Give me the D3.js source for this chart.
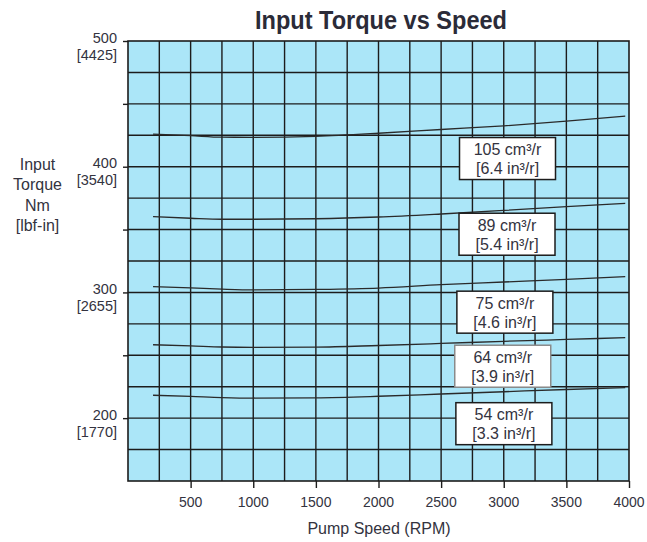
<!DOCTYPE html>
<html>
<head>
<meta charset="utf-8">
<script src="https://cdn.jsdelivr.net/npm/d3@7"></script>
<style>
  html, body { margin: 0; padding: 0; background: #ffffff; }
  svg { display: block; font-family: "Liberation Sans", Arial, sans-serif; }
</style>
</head>
<body>
<svg id="chart" width="647" height="542"></svg>
<script>
// ---- data ----
const speedsRpm = [200, 500, 750, 1000, 1500, 2000, 2500, 3000, 3500, 3970];
const torque105 = [426.0, 424.7, 423.5, 423.4, 424.2, 426.6, 429.6, 432.5, 436.3, 440.3];
const torque89  = [360.3, 359.0, 358.2, 358.2, 358.6, 360.0, 362.4, 365.2, 368.2, 370.9];
const torque75  = [304.6, 303.6, 302.6, 302.0, 302.4, 303.5, 306.2, 308.3, 310.4, 312.5];
const torque64  = [258.4, 257.5, 256.6, 256.3, 256.5, 257.8, 259.4, 261.1, 262.6, 264.0];
const torque54  = [218.2, 217.3, 216.4, 216.0, 216.2, 217.4, 219.2, 221.0, 222.8, 224.3];
const displacementMetric = ["105 cm³/r", "89 cm³/r", "75 cm³/r", "64 cm³/r", "54 cm³/r"];
const displacementImperial = ["[6.4 in³/r]", "[5.4 in³/r]", "[4.6 in³/r]", "[3.9 in³/r]", "[3.3 in³/r]"];
const xTickValues = [500, 1000, 1500, 2000, 2500, 3000, 3500, 4000];
const yTickValues = [200, 300, 400, 500];
const yTickImperial = ["[1770]", "[2655]", "[3540]", "[4425]"];
const titleText = "Input Torque vs Speed";
const xAxisTitle = "Pump Speed (RPM)";
const yAxisTitle = ["Input", "Torque", "Nm", "[lbf-in]"];

// ---- layout ----
const svg = d3.select("#chart");
const plot = { left: 128, right: 629, top: 41, bottom: 481 };
const x = d3.scaleLinear().domain([0, 4000]).range([plot.left, plot.right]);
const y = d3.scaleLinear().domain([150, 500]).range([plot.bottom, plot.top]);
const textColor = "#333340";

// background
svg.append("rect")
  .attr("x", plot.left).attr("y", plot.top)
  .attr("width", plot.right - plot.left).attr("height", plot.bottom - plot.top)
  .attr("fill", "#abe6f8");

// grid
const gridX = d3.range(250, 4000, 250);
const gridY = d3.range(175, 500, 25);
svg.append("g").selectAll("line").data(gridX).join("line")
  .attr("x1", d => x(d)).attr("x2", d => x(d))
  .attr("y1", plot.top).attr("y2", plot.bottom)
  .attr("stroke", "#1c1c1c").attr("stroke-width", 1.4);
svg.append("g").selectAll("line").data(gridY).join("line")
  .attr("y1", d => y(d)).attr("y2", d => y(d))
  .attr("x1", plot.left).attr("x2", plot.right)
  .attr("stroke", "#1c1c1c").attr("stroke-width", 1.4);

// axes ticks
const xAxis = d3.axisBottom(x).tickValues(xTickValues).tickSize(7).tickFormat("");
const gx = svg.append("g").attr("transform", `translate(0,${plot.bottom})`).call(xAxis);
gx.select(".domain").remove();
gx.selectAll(".tick line").attr("stroke", "#1c1c1c").attr("stroke-width", 1.4);

const yAxis = d3.axisLeft(y).tickValues(d3.range(200, 501, 50)).tickSize(5).tickFormat("");
const gy = svg.append("g").attr("transform", `translate(${plot.left},0)`).call(yAxis);
gy.select(".domain").remove();
gy.selectAll(".tick line").attr("stroke", "#1c1c1c").attr("stroke-width", 1.4);

// frame
svg.append("rect")
  .attr("x", plot.left).attr("y", plot.top)
  .attr("width", plot.right - plot.left).attr("height", plot.bottom - plot.top)
  .attr("fill", "none").attr("stroke", "#1c1c1c").attr("stroke-width", 1.6);

// x tick labels
svg.append("g").selectAll("text").data(xTickValues).join("text")
  .attr("x", d => x(d)).attr("y", 506.5)
  .attr("text-anchor", "middle").attr("font-size", 14).attr("fill", textColor)
  .text(d => d);

// y tick labels
const yl = svg.append("g");
yl.selectAll("text.nm").data(yTickValues).join("text").attr("class", "nm")
  .attr("x", 117).attr("y", d => y(d) + 1.5)
  .attr("text-anchor", "end").attr("font-size", 14.5).attr("fill", textColor)
  .text(d => d);
yl.selectAll("text.lbf").data(yTickValues).join("text").attr("class", "lbf")
  .attr("x", 117).attr("y", (d, i) => y(d) + 18.5)
  .attr("text-anchor", "end").attr("font-size", 14.5).attr("fill", textColor)
  .text((d, i) => yTickImperial[i]);

// curves
const series = [torque105, torque89, torque75, torque64, torque54];
const line = d3.line().x(d => x(d[0])).y(d => y(d[1])).curve(d3.curveMonotoneX);
svg.append("g").selectAll("path").data(series).join("path")
  .attr("d", s => line(speedsRpm.map((r, i) => [r, s[i]])))
  .attr("fill", "none").attr("stroke", "#2a2a2a").attr("stroke-width", 1.3);

// annotation boxes (anchored in data space)
const boxCenterRpm = [3030, 3026, 3009, 2992, 3001];
const boxCenterNm = [406.5, 346.3, 284.3, 241.3, 195.6];
const boxW = 96, boxH = 42;
const ann = svg.append("g").selectAll("g").data(displacementMetric).join("g")
  .attr("transform", (d, i) => `translate(${x(boxCenterRpm[i])},${y(boxCenterNm[i])})`);
ann.append("rect")
  .attr("x", -boxW / 2).attr("y", -boxH / 2).attr("width", boxW).attr("height", boxH)
  .attr("fill", "#ffffff")
  .attr("stroke", (d, i) => i === 3 ? "#8a8a8a" : "#1c1c1c")
  .attr("stroke-width", 1.5);
ann.append("text")
  .attr("x", 0).attr("y", -3.5)
  .attr("text-anchor", "middle").attr("font-size", 16).attr("fill", textColor)
  .text(d => d);
ann.append("text")
  .attr("x", 0).attr("y", 15.5)
  .attr("text-anchor", "middle").attr("font-size", 16).attr("fill", textColor)
  .text((d, i) => displacementImperial[i]);

// title
svg.append("text")
  .attr("x", 255).attr("y", 29)
  .attr("font-size", 25).attr("font-weight", "bold").attr("fill", "#2b2b38")
  .attr("textLength", 252).attr("lengthAdjust", "spacingAndGlyphs")
  .text(titleText);

// x axis title
svg.append("text")
  .attr("x", 379).attr("y", 534)
  .attr("text-anchor", "middle").attr("font-size", 16).attr("fill", textColor)
  .text(xAxisTitle);

// y axis title
svg.append("g").selectAll("text").data(yAxisTitle).join("text")
  .attr("x", 37.5).attr("y", (d, i) => 170 + i * 20.3)
  .attr("text-anchor", "middle").attr("font-size", 16).attr("fill", textColor)
  .text(d => d);
</script>
</body>
</html>
